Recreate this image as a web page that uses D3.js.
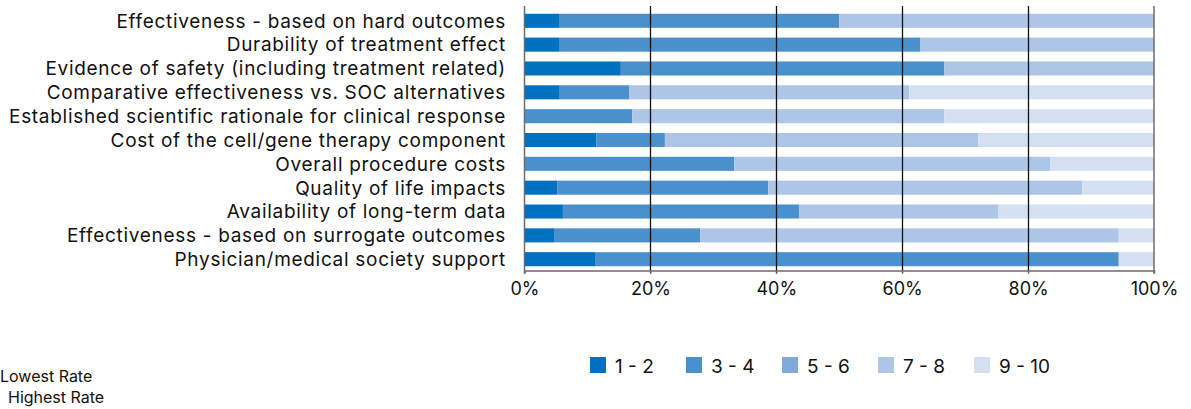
<!DOCTYPE html>
<html><head><meta charset="utf-8">
<script src="https://cdn.jsdelivr.net/npm/d3@7"></script>
<style>
body{margin:0;background:#fff;}
text{font-family:Inter,Lato,sans-serif;fill:#111;}
</style></head>
<body><svg id="chart" width="1191" height="409"></svg>
<script>
const categories = [
  "Effectiveness - based on hard outcomes",
  "Durability of treatment effect",
  "Evidence of safety (including treatment related)",
  "Comparative effectiveness vs. SOC alternatives",
  "Established scientific rationale for clinical response",
  "Cost of the cell/gene therapy component",
  "Overall procedure costs",
  "Quality of life impacts",
  "Availability of long-term data",
  "Effectiveness - based on surrogate outcomes",
  "Physician/medical society support"
];
const seriesNames = ["1 - 2","3 - 4","5 - 6","7 - 8","9 - 10"];
const s12  = [5.6, 5.6, 15.3, 5.6, 0, 11.4, 0, 5.2, 6.1, 4.8, 11.2];
const s34  = [44.4, 57.3, 51.4, 11.0, 17.1, 10.9, 33.3, 33.5, 37.5, 23.1, 83.2];
const s56  = [0, 0, 0, 0, 0, 0, 0, 0, 0, 0, 0];
const s78  = [50.0, 37.1, 33.3, 44.5, 49.6, 49.8, 50.2, 49.9, 31.7, 66.5, 0];
const s910 = [0, 0, 0, 38.9, 33.3, 27.9, 16.5, 11.4, 24.7, 5.6, 5.6];
const seriesValues = [s12, s34, s56, s78, s910];
const colors = ["#0070C0","#4A90CD","#7FAADB","#ADC6E8","#D4DFF1"];
const tickValues = [0, 0.2, 0.4, 0.6, 0.8, 1.0];

const svg = d3.select("#chart");
const x0 = 524.5, x1 = 1154, yTop = 6, yBot = 270.5;
const x = d3.scaleLinear().domain([0, 1]).range([x0, x1]);
const y = d3.scaleBand().domain(categories).range([9, 271]).paddingInner(0.41).paddingOuter(0.2);

const rows = categories.map((c, i) => {
  const vals = seriesValues.map(s => s[i]);
  const tot = d3.sum(vals);
  let acc = 0;
  return seriesNames.map((n, k) => {
    const start = acc / tot; acc += vals[k];
    return {cat: c, k, start, end: acc / tot};
  });
});

svg.append("g").selectAll("g").data(rows).join("g")
  .selectAll("rect").data(d => d.filter(s => s.end > s.start)).join("rect")
  .attr("x", d => x(d.start))
  .attr("width", d => x(d.end) - x(d.start))
  .attr("y", d => y(d.cat))
  .attr("height", y.bandwidth())
  .attr("fill", d => colors[d.k]);

svg.append("g").selectAll("line").data(tickValues.slice(1, -1)).join("line")
  .attr("x1", d => Math.round(x(d)) + 0.5).attr("x2", d => Math.round(x(d)) + 0.5)
  .attr("y1", yTop).attr("y2", yBot + 3)
  .attr("stroke", "#111").attr("stroke-width", 1.3);
[0, 1].forEach(v => {
  svg.append("line").attr("x1", x(v)).attr("x2", x(v)).attr("y1", yTop).attr("y2", yBot + 3)
    .attr("stroke", "#6b6b6b").attr("stroke-width", 1.5);
});

const xAxis = d3.axisBottom(x).tickValues(tickValues).tickFormat(d3.format(".0%")).tickSize(3).tickPadding(9);
const gx = svg.append("g").attr("transform", `translate(0,${yBot})`).call(xAxis);
gx.select(".domain").attr("stroke", "#6b6b6b").attr("stroke-width", 1.5);
gx.selectAll(".tick line").attr("stroke", "#6b6b6b");
gx.selectAll("text").style("font-size", "18px").attr("fill", "#111").style("font-family", "Inter,Lato,sans-serif");

svg.append("g").selectAll("text").data(categories).join("text")
  .attr("x", 506).attr("y", d => y(d) + y.bandwidth() / 2)
  .attr("dy", "0.36em").attr("text-anchor", "end")
  .style("font-size", "19px").style("letter-spacing", "0.7px").text(d => d);

const lg = svg.append("g").selectAll("g").data(seriesNames).join("g")
  .attr("transform", (d, i) => `translate(${590 + i * 96},357)`);
lg.append("rect").attr("width", 16).attr("height", 16).attr("fill", (d, i) => colors[i]);
lg.append("text").attr("x", 25).attr("y", 15.5).style("font-size", "19px").text(d => d);

svg.append("text").attr("x", 0).attr("y", 382).style("font-size", "16px").text("Lowest Rate");
svg.append("text").attr("x", 8).attr("y", 403).style("font-size", "16px").text("Highest Rate");
</script></body></html>
